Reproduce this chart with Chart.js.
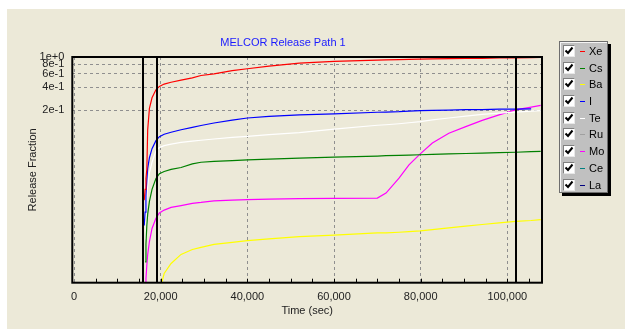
<!DOCTYPE html>
<html>
<head>
<meta charset="utf-8">
<script src="https://cdn.jsdelivr.net/npm/chart.js@4.4.1/dist/chart.umd.min.js"></script>
<style>
  html, body { margin: 0; padding: 0; background: #fff; }
  #panel { position: absolute; left: 7px; top: 9px; width: 618px; height: 320px; background: #ECE9D8; }
  #chart { position: absolute; left: 0; top: 0; }
  #legend {
    position: absolute; left: 552px; top: 32px; width: 47px; height: 149px;
    background: #C0C0C0; border: 1px solid #6e6e6e;
    box-shadow: inset 1px 1px 0 #f4f4f4, 3px 3px 0 #000;
    font: 11px "Liberation Sans", Arial, sans-serif; color: #000;
    padding-top: 1px;
  }
  .row { position: relative; height: 16.7px; }
  .box {
    position: absolute; left: 3px; top: 2px; width: 10px; height: 10px; background: #fff;
    border-top: 1px solid #808080; border-left: 1px solid #808080;
    border-bottom: 1px solid #e8e8e8; border-right: 1px solid #e8e8e8;
  }
  .box svg { position: absolute; left: 0; top: 0; }
  .dash { position: absolute; left: 20px; top: 8px; width: 5px; height: 1px; }
  .name { position: absolute; left: 29px; top: 1px; line-height: 14px; }
</style>
</head>
<body>
<div id="panel">
  <canvas id="chart" width="618" height="320"></canvas>
  <div id="legend"></div>
</div>
<script>
// release fractions (log scale), time in seconds
const times = [16200, 16400, 16600, 16800, 17000, 17400, 18000, 18900, 19700, 20800,
  22400, 24700, 27300, 29300, 32300, 36500, 40000, 45000, 52000, 60000,
  70000, 72000, 75000, 77300, 79900, 82700, 86500, 90400, 94200, 98100,
  101900, 105500, 107700];

const xe = [0.013, 0.018, 0.025, 0.033, 0.11, 0.21, 0.29, 0.37, 0.41, 0.44,
  0.465, 0.495, 0.53, 0.57, 0.60, 0.66, 0.70, 0.76, 0.83, 0.875,
  0.91, 0.915, 0.925, 0.93, 0.94, 0.945, 0.95, 0.955, 0.96, 0.97,
  0.975, 0.98, 0.985];

const cs = [null, 0.002, 0.0034, 0.006, 0.0085, 0.0125, 0.018, 0.025, 0.029, 0.031,
  0.033, 0.035, 0.039, 0.041, 0.042, 0.043, 0.044, 0.045, 0.0465, 0.048,
  0.0495, 0.05, 0.0505, 0.051, 0.0515, 0.052, 0.053, 0.0535, 0.054, 0.055,
  0.0555, 0.0565, 0.057];

const ba = [null, null, null, null, null, null, null, null, 0.0008, 0.0014,
  0.0019, 0.0025, 0.0029, 0.0031, 0.0034, 0.0036, 0.0038, 0.004, 0.0043, 0.0045,
  0.0048, 0.0048, 0.0049, 0.005, 0.0051, 0.0053, 0.0056, 0.0059, 0.0062, 0.0065,
  0.0068, 0.007, 0.0072];

const iod = [0.006, 0.009, 0.015, 0.024, 0.034, 0.047, 0.062, 0.079, 0.089, 0.096,
  0.102, 0.110, 0.118, 0.125, 0.135, 0.147, 0.157, 0.165, 0.173, 0.178,
  0.187, 0.188, 0.19, 0.193, 0.196, 0.198, 0.2, 0.202, 0.203, 0.205,
  0.206, 0.207, null];

const te = [null, 0.004, 0.008, 0.013, 0.02, 0.03, 0.041, 0.058, 0.064, 0.068,
  0.071, 0.075, 0.078, 0.080, 0.083, 0.087, 0.09, 0.095, 0.101, 0.112,
  0.126, 0.128, 0.132, 0.136, 0.141, 0.148, 0.157, 0.166, 0.175, 0.182,
  0.188, 0.193, 0.196];

const mo = [null, 0.0009, 0.0012, 0.0018, 0.0025, 0.0037, 0.0055, 0.0075, 0.0088, 0.0096,
  0.0104, 0.011, 0.0118, 0.0121, 0.0127, 0.013, 0.0132, 0.0134, 0.0136, 0.0137,
  0.0138, 0.0161, 0.0253, 0.0378, 0.0528, 0.0735, 0.099, 0.121, 0.146, 0.173,
  0.201, 0.218, 0.23];

// Ru, Ce and La stay below the plotted range
const ru = [];
const ce = [];
const la = [];

const seriesNames = ['Xe', 'Cs', 'Ba', 'I', 'Te', 'Ru', 'Mo', 'Ce', 'La'];
const seriesColors = ['#FF0000', '#008000', '#FFFF00', '#0000FF', '#FFFFFF', '#A0A0A0', '#FF00FF', '#008080', '#000080'];
const seriesValues = [xe, cs, ba, iod, te, ru, mo, ce, la];

const xTicks = [0, 20000, 40000, 60000, 80000, 100000];
const yTicks = [0.2, 0.4, 0.6, 0.8, 1];
const yTickLabels = ['2e-1', '4e-1', '6e-1', '8e-1', '1e+0'];
const markerTimes = [16000, 19100, 102100];

const fontName = '"Liberation Sans", Arial, sans-serif';

// legend
const legend = document.getElementById('legend');
seriesNames.forEach((name, i) => {
    const row = document.createElement('div');
    row.className = 'row';
    row.innerHTML = '<div class="box"><svg width="10" height="10"><polyline points="1.5,4.5 4,7 8.5,1.5" fill="none" stroke="#000" stroke-width="2"/></svg></div>' +
        '<div class="dash" style="background:' + seriesColors[i] + '"></div>' +
        '<div class="name">' + name + '</div>';
    legend.appendChild(row);
});

const extras = {
    id: 'extras',
    afterDatasetsDraw(chart) {
        const ctx = chart.ctx;
        const a = chart.chartArea;
        const xs = chart.scales.x;
        ctx.save();
        // minor ticks along the bottom
        ctx.strokeStyle = '#000';
        ctx.lineWidth = 1;
        for (let t = 5000; t < 108000; t += 5000) {
            const px = Math.round(xs.getPixelForValue(t)) + 0.5;
            ctx.beginPath();
            ctx.moveTo(px, a.bottom);
            ctx.lineTo(px, a.bottom - 4);
            ctx.stroke();
        }
        // marker lines
        ctx.lineWidth = 2;
        markerTimes.forEach(t => {
            const px = Math.round(xs.getPixelForValue(t));
            ctx.beginPath();
            ctx.moveTo(px, a.top);
            ctx.lineTo(px, a.bottom);
            ctx.stroke();
        });
        ctx.strokeRect(a.left, a.top, a.right - a.left, a.bottom - a.top);
        // title
        ctx.fillStyle = '#1a1aff';
        ctx.font = '11px ' + fontName;
        ctx.textAlign = 'center';
        ctx.textBaseline = 'middle';
        ctx.fillText('MELCOR Release Path 1', 276, 34);
        ctx.restore();
    }
};

new Chart(document.getElementById('chart'), {
    type: 'line',
    data: {
        datasets: seriesNames.map((name, i) => ({
            label: name,
            data: seriesValues[i].map((v, j) => ({ x: times[j], y: v })),
            borderColor: seriesColors[i],
            backgroundColor: seriesColors[i],
            borderWidth: 1.2,
            pointRadius: 0,
            tension: 0,
            fill: false
        }))
    },
    options: {
        responsive: false,
        animation: false,
        layout: { padding: { left: 0, top: 48, right: 83, bottom: 0 } },
        plugins: {
            legend: { display: false },
            tooltip: { enabled: false }
        },
        scales: {
            x: {
                type: 'linear',
                min: -400,
                max: 108000,
                afterBuildTicks: s => { s.ticks = xTicks.map(v => ({ value: v })); },
                afterFit: s => { s.height = 46.3; },
                grid: { color: '#8f8f8f', drawTicks: false },
                border: { display: false, dash: [3, 3] },
                ticks: {
                    padding: 8,
                    color: '#222',
                    font: { family: fontName, size: 11 },
                    maxRotation: 0,
                    callback: v => v.toLocaleString('en-US')
                },
                title: {
                    display: true,
                    text: 'Time (sec)',
                    color: '#222',
                    font: { family: fontName, size: 11 },
                    padding: { top: 0, bottom: 11.7 }
                }
            },
            y: {
                type: 'logarithmic',
                min: 0.00106,
                max: 1,
                afterBuildTicks: s => { s.ticks = yTicks.map(v => ({ value: v })); },
                afterFit: s => { s.width = 65.3; },
                grid: { color: '#8f8f8f', drawTicks: false },
                border: { display: false, dash: [3, 3] },
                ticks: {
                    padding: 8,
                    color: '#222',
                    font: { family: fontName, size: 11 },
                    callback: v => yTickLabels[yTicks.indexOf(v)]
                },
                title: {
                    display: true,
                    text: 'Release Fraction',
                    color: '#222',
                    font: { family: fontName, size: 11 },
                    padding: { top: 19.4, bottom: 0 }
                }
            }
        }
    },
    plugins: [extras]
});
</script>
</body>
</html>
